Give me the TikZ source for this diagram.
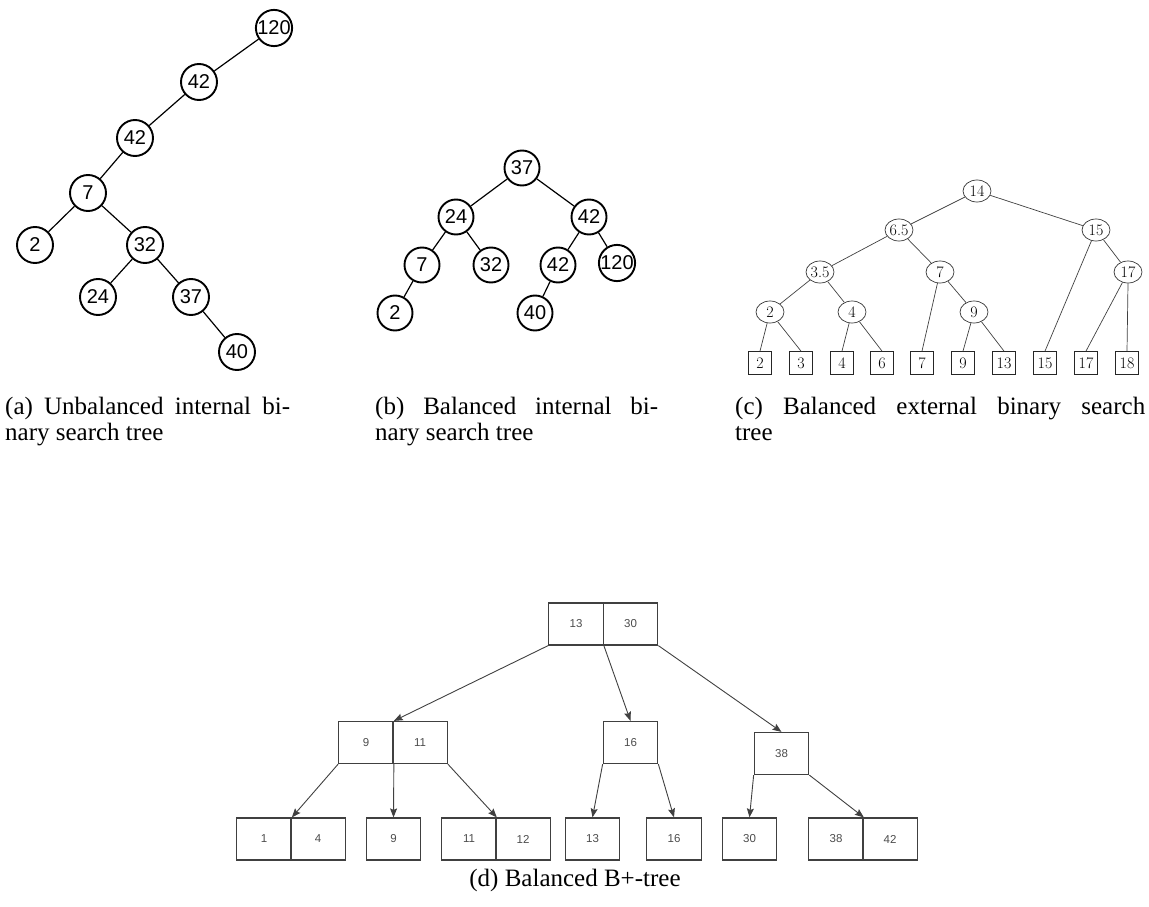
\documentclass[tikz,border=0pt]{standalone}
\usepackage{fontspec}
\newfontfamily\capfont{Liberation Serif}
\newfontfamily\helv{Liberation Sans}
\usetikzlibrary{shapes.geometric,arrows.meta}
\begin{document}
\begin{tikzpicture}[x=1pt,y=-1pt,
  anode/.style={circle,draw,line width=1.9pt,minimum size=36pt,inner sep=0pt,font=\helv\fontsize{20}{20}\selectfont},
  bnode/.style={anode,minimum size=35pt},
  tedge/.style={line width=1.2pt},
  enode/.style={ellipse,draw=black!80,line width=0.7pt,minimum width=28pt,minimum height=22pt,inner sep=0pt,font=\rmfamily\fontsize{16}{16}\selectfont},
  leaf/.style={rectangle,draw=black!85,line width=0.8pt,minimum size=23pt,inner sep=0pt,font=\rmfamily\fontsize{16}{16}\selectfont},
  eedge/.style={draw=black!75,line width=0.7pt},
  cell/.style={rectangle,draw=black!75,line width=1.2pt,minimum width=54.5pt,minimum height=42pt,inner sep=0pt,font=\helv\fontsize{11.5}{11.5}\selectfont,text=black!70},
  barrow/.style={draw=black!75,line width=0.9pt,-{Stealth[length=9pt,width=7pt,inset=1.5pt]}},
  captext/.style={anchor=base west,inner sep=0pt,align=justify,font=\capfont\fontsize{25}{26.5}\selectfont}
]
\useasboundingbox (0,0) rectangle (1149,907);

% (a) unbalanced internal BST
\node[anode] (a120) at (274,28) {120};
\node[anode] (a42a) at (199,82) {42};
\node[anode] (a42b) at (135,138) {42};
\node[anode] (a7) at (88,193) {7};
\node[anode] (a2) at (35,245) {2};
\node[anode] (a32) at (145,245) {32};
\node[anode] (a24) at (98,297) {24};
\node[anode] (a37) at (191,297) {37};
\node[anode] (a40) at (237,352) {40};
\draw[tedge] (a120) -- (a42a);
\draw[tedge] (a42a) -- (a42b);
\draw[tedge] (a42b) -- (a7);
\draw[tedge] (a7) -- (a2);
\draw[tedge] (a7) -- (a32);
\draw[tedge] (a32) -- (a24);
\draw[tedge] (a32) -- (a37);
\draw[tedge] (a37) -- (a40);

% (b) balanced internal BST
\node[bnode] (b37) at (522,168) {37};
\node[bnode] (b24) at (456,217) {24};
\node[bnode] (b42) at (589,217) {42};
\node[bnode] (b7) at (422,265) {7};
\node[bnode] (b32) at (491,265) {32};
\node[bnode] (b42b) at (558,265) {42};
\node[bnode] (b120) at (617,263) {120};
\node[bnode] (b2) at (395,313) {2};
\node[bnode] (b40) at (535,313) {40};
\draw[tedge] (b37) -- (b24);
\draw[tedge] (b37) -- (b42);
\draw[tedge] (b24) -- (b7);
\draw[tedge] (b24) -- (b32);
\draw[tedge] (b42) -- (b42b);
\draw[tedge] (b42) -- (b120);
\draw[tedge] (b7) -- (b2);
\draw[tedge] (b42b) -- (b40);

% (c) balanced external BST
\node[enode] (c14) at (977,191) {14};
\node[enode] (c65) at (899,230) {6.5};
\node[enode] (c15) at (1096,230) {15};
\node[enode] (c35) at (820,272) {3.5};
\node[enode] (c7) at (940,272) {7};
\node[enode] (c17) at (1128,272) {17};
\node[enode] (c2) at (770,312) {2};
\node[enode] (c4) at (852,312) {4};
\node[enode] (c9) at (974,312) {9};
\node[leaf] (l2) at (760,363) {2};
\node[leaf] (l3) at (801,363) {3};
\node[leaf] (l4) at (842,363) {4};
\node[leaf] (l6) at (882,363) {6};
\node[leaf] (l7) at (922,363) {7};
\node[leaf] (l9) at (963,363) {9};
\node[leaf] (l13) at (1004,363) {13};
\node[leaf] (l15) at (1045,363) {15};
\node[leaf] (l17) at (1086,363) {17};
\node[leaf] (l18) at (1127,363) {18};
\draw[eedge] (c14) -- (c65);
\draw[eedge] (c14) -- (c15);
\draw[eedge] (c65) -- (c35);
\draw[eedge] (c65) -- (c7);
\draw[eedge] (c15) -- (l15.north);
\draw[eedge] (c15) -- (c17);
\draw[eedge] (c35) -- (c2);
\draw[eedge] (c35) -- (c4);
\draw[eedge] (c7) -- (l7.north);
\draw[eedge] (c7) -- (c9);
\draw[eedge] (c17) -- (l17.north);
\draw[eedge] (c17.south) -- (l18.north);
\draw[eedge] (c2) -- (l2.north);
\draw[eedge] (c2) -- (l3.north);
\draw[eedge] (c4) -- (l4.north);
\draw[eedge] (c4) -- (l6.north);
\draw[eedge] (c9) -- (l9.north);
\draw[eedge] (c9) -- (l13.north);

% captions (a)-(c)
\node[captext,text width=285pt] (capa) at (5,414) {(a) Unbalanced internal bi-\linebreak nary search tree};
\node[captext,text width=283pt] (capb) at (375,414) {(b) Balanced internal bi-\linebreak nary search tree};
\node[captext,text width=410pt] (capc) at (735,414) {(c) Balanced external binary search\linebreak tree};

% (d) B+-tree
\node[cell] (d13) at (576,624) {13};
\node[cell] (d30) at (630.5,624) {30};
\node[cell] (e9) at (366,742.5) {9};
\node[cell] (e11) at (420,742.5) {11};
\node[cell] (e16) at (630.5,742.5) {16};
\node[cell] (e38) at (781.5,753.5) {38};
\node[cell] (f1) at (264,839) {1};
\node[cell] (f4) at (318,839) {4};
\node[cell] (f9) at (393.5,839) {9};
\node[cell] (f11) at (469,839) {11};
\node[cell] (f12) at (523,839) {12};
\node[cell] (f13) at (592.5,839) {13};
\node[cell] (f16) at (674,839) {16};
\node[cell] (f30) at (749.5,839) {30};
\node[cell] (f38) at (836,839) {38};
\node[cell] (f42) at (890,839) {42};
\draw[barrow] (d13.south west) -- (e9.north east);
\draw[barrow] (d13.south east) -- (e16.north);
\draw[barrow] (d30.south east) -- (e38.north);
\draw[barrow] (e9.south west) -- (f1.north east);
\draw[barrow] (e9.south east) -- (f9.north);
\draw[barrow] (e11.south east) -- (f11.north east);
\draw[barrow] (e16.south west) -- (f13.north);
\draw[barrow] (e16.south east) -- (f16.north);
\draw[barrow] (e38.south west) -- (f30.north);
\draw[barrow] (e38.south east) -- (f38.north east);
\node[anchor=base,inner sep=0pt,font=\capfont\fontsize{25}{26.5}\selectfont] (capd) at (575,886) {(d) Balanced B+-tree};
\end{tikzpicture}
\end{document}
